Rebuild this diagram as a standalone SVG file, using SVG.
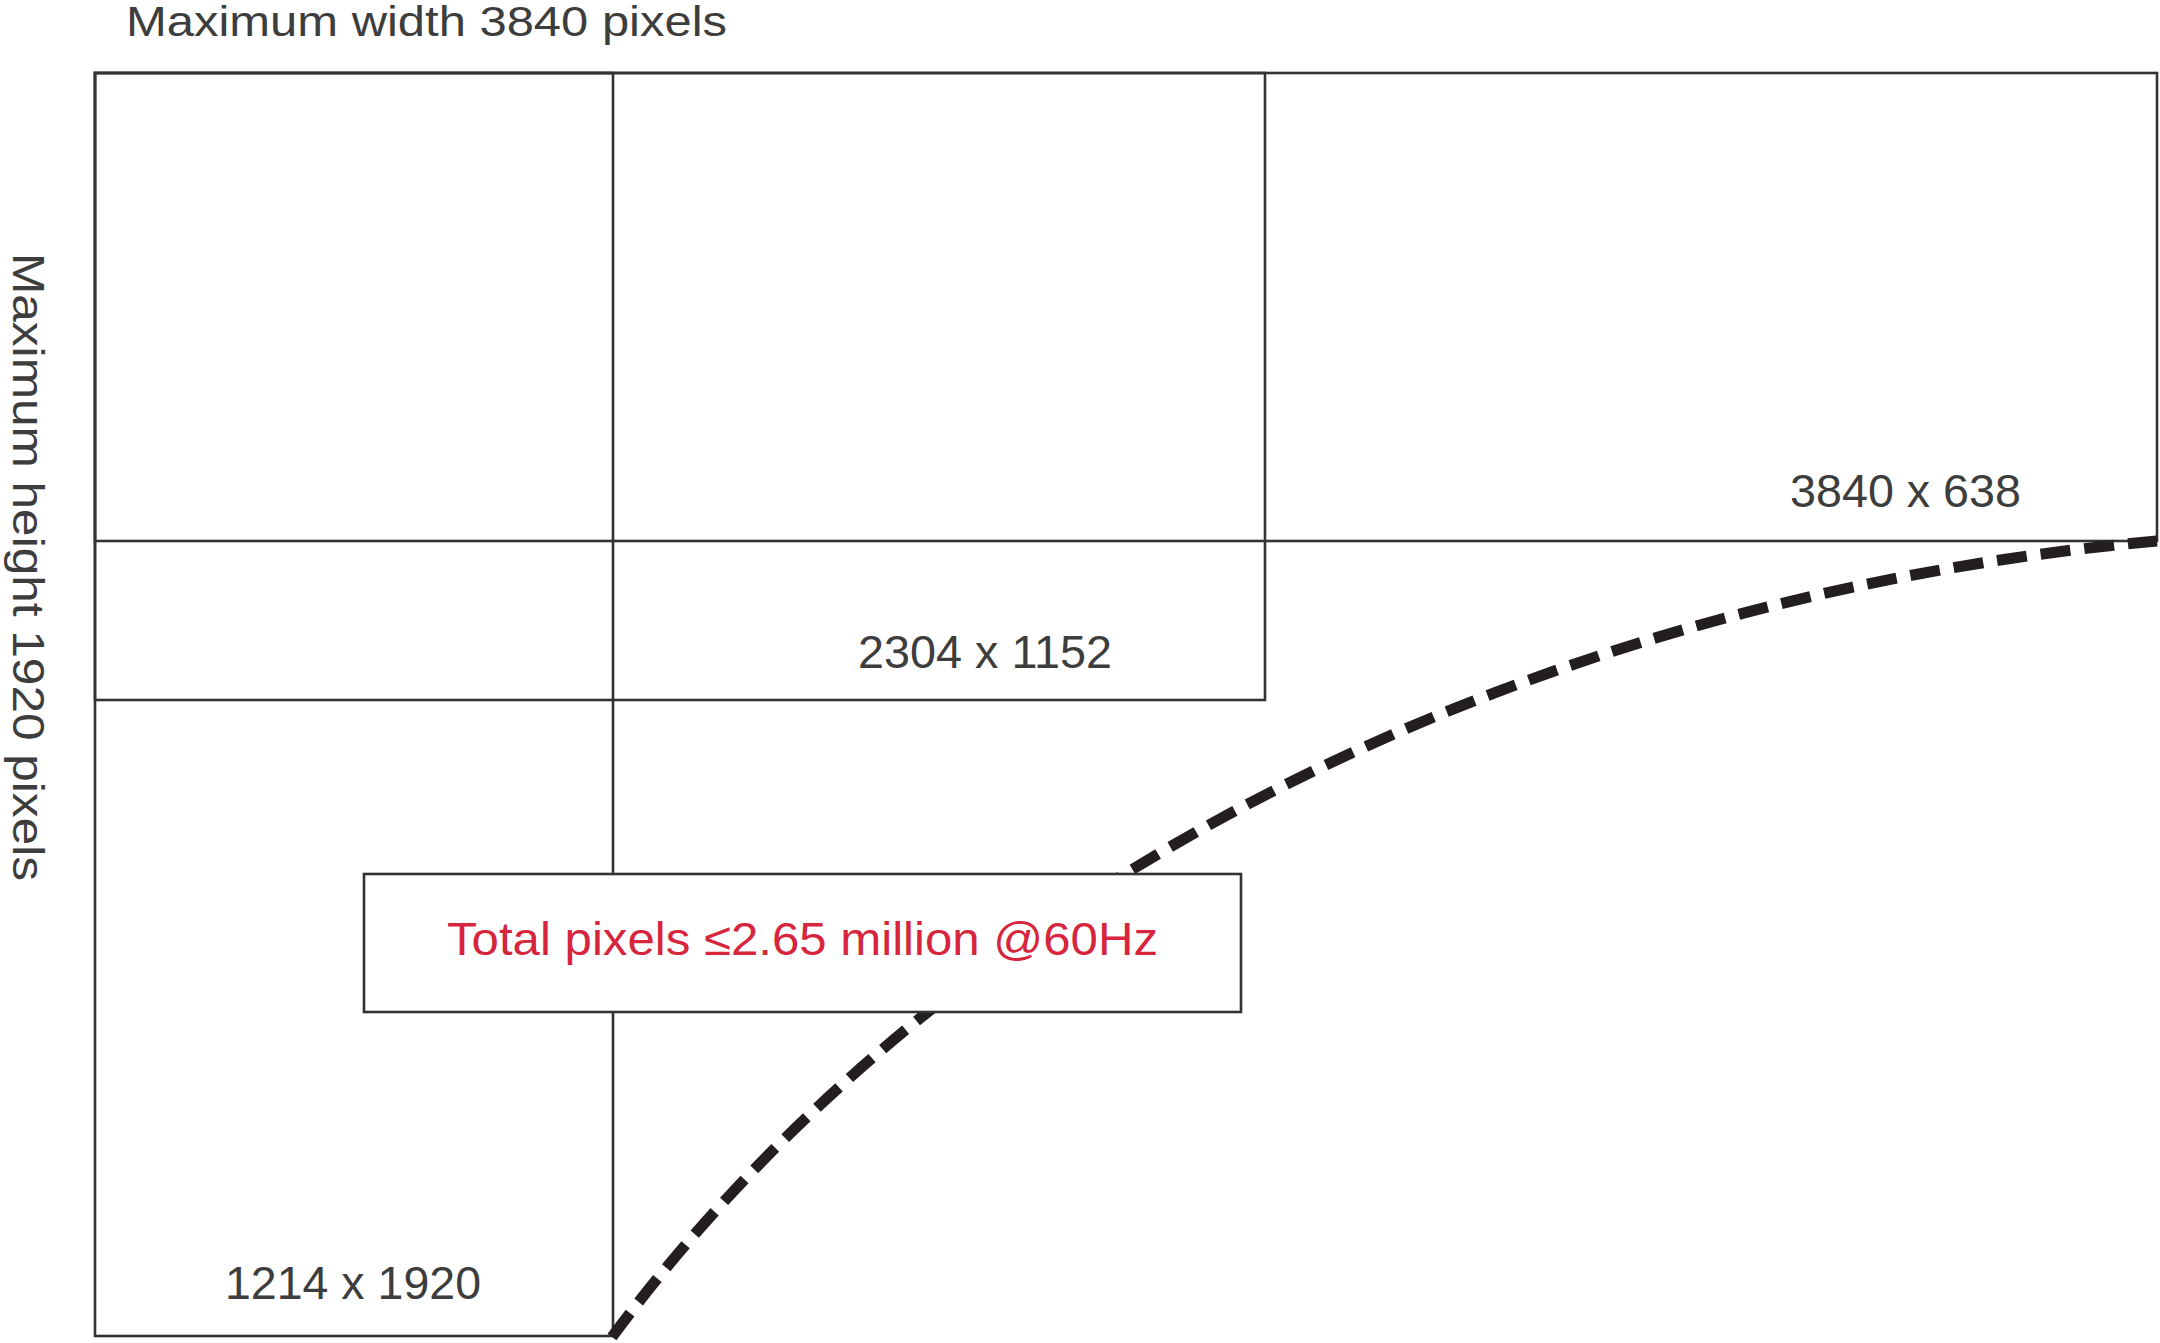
<svg xmlns="http://www.w3.org/2000/svg" width="2160" height="1343" viewBox="0 0 2160 1343">
<style>
.frame{fill:none;stroke:#333;stroke-width:2.6}
.box{fill:#fff;stroke:#333;stroke-width:2.6}
.lbl{font-family:"Liberation Sans",Arial,sans-serif;font-size:46px;fill:#3d3d3d}
.red{font-family:"Liberation Sans",Arial,sans-serif;font-size:46px;fill:#d6253c}
.curve{fill:none;stroke:#231f20;stroke-width:11;stroke-dasharray:30 14}
</style>
<rect width="2160" height="1343" fill="#fff"/>
<g id="axis-width">
<text class="lbl" x="126" y="36" textLength="601" lengthAdjust="spacingAndGlyphs" style="font-size:43px">Maximum width 3840 pixels</text>
</g>
<g id="axis-height">
<text class="lbl" transform="translate(13,253) rotate(90)" x="0" y="0" textLength="628" lengthAdjust="spacingAndGlyphs" style="font-size:45px">Maximum height 1920 pixels</text>
</g>
<g id="node-1214x1920">
<rect class="frame" x="95" y="73" width="518" height="1263"/>
</g>
<g id="node-2304x1152">
<rect class="frame" x="95" y="73" width="1170" height="627"/>
</g>
<g id="node-3840x638">
<rect class="frame" x="95" y="73" width="2062" height="468"/>
</g>
<g id="connectors">
<path class="curve" d="M612,1337 C962,864.5 1557,595 2157,541"/>
</g>
<g id="node-total">
<rect class="box" x="364" y="874" width="877" height="138"/>
<text class="red" x="447" y="955" textLength="711" lengthAdjust="spacingAndGlyphs">Total pixels ≤2.65 million @60Hz</text>
</g>
<g id="labels">
<text class="lbl" x="1790" y="507" textLength="231" lengthAdjust="spacingAndGlyphs">3840 x 638</text>
<text class="lbl" x="858" y="668" textLength="254" lengthAdjust="spacingAndGlyphs">2304 x 1152</text>
<text class="lbl" x="225" y="1299" textLength="256" lengthAdjust="spacingAndGlyphs">1214 x 1920</text>
</g>
</svg>
